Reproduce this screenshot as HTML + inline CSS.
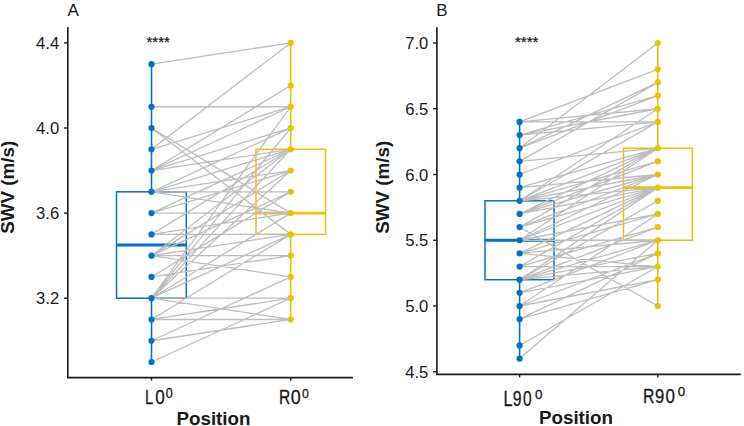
<!DOCTYPE html>
<html><head><meta charset="utf-8"><style>
html,body{margin:0;padding:0;background:#fff;}
svg{display:block;}
text{font-family:"Liberation Sans",sans-serif;fill:#1a1a1a;}
.tk{font-size:16.6px;}
.pl{font-size:17px;}
.st{font-size:15px;stroke:#1a1a1a;stroke-width:0.25px;}
.ax{font-size:18.8px;font-weight:bold;}
.cx{font-size:19.5px;}
.sup{font-size:13px;}
</style></head><body>
<svg width="744" height="426" viewBox="0 0 744 426">
<rect width="744" height="426" fill="#fff"/>
<rect x="116.5" y="191.82" width="69.8" height="106.37" fill="none" stroke="#0073C2" stroke-width="1.5"/>
<line x1="116.5" y1="245.01" x2="186.3" y2="245.01" stroke="#0073C2" stroke-width="2.8"/>
<rect x="256" y="149.28" width="69.5" height="85.1" fill="none" stroke="#EFC000" stroke-width="1.5"/>
<line x1="256" y1="213.1" x2="325.5" y2="213.1" stroke="#EFC000" stroke-width="2.8"/>
<line x1="151.5" y1="362.02" x2="151.5" y2="298.2" stroke="#0073C2" stroke-width="1.6"/>
<line x1="151.5" y1="191.82" x2="151.5" y2="64.18" stroke="#0073C2" stroke-width="1.6"/>
<line x1="290.7" y1="319.48" x2="290.7" y2="234.38" stroke="#EFC000" stroke-width="1.6"/>
<line x1="290.7" y1="149.28" x2="290.7" y2="42.9" stroke="#EFC000" stroke-width="1.6"/>
<path d="M151.5 64.18L290.7 42.9M151.5 106.73L290.7 106.73M151.5 106.73L290.7 106.73M151.5 128L290.7 213.1M151.5 128L290.7 234.38M151.5 149.28L290.7 42.9M151.5 149.28L290.7 106.73M151.5 170.55L290.7 85.45M151.5 170.55L290.7 106.73M151.5 170.55L290.7 128M151.5 170.55L290.7 149.28M151.5 191.82L290.7 128M151.5 191.82L290.7 149.28M151.5 191.82L290.7 170.55M151.5 191.82L290.7 191.82M151.5 191.82L290.7 213.1M151.5 213.1L290.7 149.28M151.5 213.1L290.7 170.55M151.5 213.1L290.7 213.1M151.5 234.38L290.7 149.28M151.5 234.38L290.7 213.1M151.5 234.38L290.7 234.38M151.5 255.65L290.7 149.28M151.5 255.65L290.7 170.55M151.5 255.65L290.7 191.82M151.5 255.65L290.7 234.38M151.5 255.65L290.7 255.65M151.5 255.65L290.7 276.93M151.5 276.93L290.7 191.82M151.5 276.93L290.7 255.65M151.5 298.2L290.7 106.73M151.5 298.2L290.7 128M151.5 298.2L290.7 149.28M151.5 298.2L290.7 170.55M151.5 298.2L290.7 213.1M151.5 298.2L290.7 234.38M151.5 298.2L290.7 298.2M151.5 298.2L290.7 319.48M151.5 319.48L290.7 234.38M151.5 319.48L290.7 298.2M151.5 319.48L290.7 319.48M151.5 340.75L290.7 276.93M151.5 340.75L290.7 319.48M151.5 362.02L290.7 298.2" stroke="#BEBEBE" stroke-width="1.3" fill="none"/>
<circle cx="151.5" cy="362.02" r="3.1" fill="#0073C2"/>
<circle cx="151.5" cy="340.75" r="3.1" fill="#0073C2"/>
<circle cx="151.5" cy="319.48" r="3.1" fill="#0073C2"/>
<circle cx="151.5" cy="298.2" r="3.1" fill="#0073C2"/>
<circle cx="151.5" cy="276.93" r="3.1" fill="#0073C2"/>
<circle cx="151.5" cy="255.65" r="3.1" fill="#0073C2"/>
<circle cx="151.5" cy="234.38" r="3.1" fill="#0073C2"/>
<circle cx="151.5" cy="213.1" r="3.1" fill="#0073C2"/>
<circle cx="151.5" cy="191.82" r="3.1" fill="#0073C2"/>
<circle cx="151.5" cy="170.55" r="3.1" fill="#0073C2"/>
<circle cx="151.5" cy="149.28" r="3.1" fill="#0073C2"/>
<circle cx="151.5" cy="128" r="3.1" fill="#0073C2"/>
<circle cx="151.5" cy="106.73" r="3.1" fill="#0073C2"/>
<circle cx="151.5" cy="64.18" r="3.1" fill="#0073C2"/>
<circle cx="290.7" cy="319.48" r="3.1" fill="#EFC000"/>
<circle cx="290.7" cy="298.2" r="3.1" fill="#EFC000"/>
<circle cx="290.7" cy="276.93" r="3.1" fill="#EFC000"/>
<circle cx="290.7" cy="255.65" r="3.1" fill="#EFC000"/>
<circle cx="290.7" cy="234.38" r="3.1" fill="#EFC000"/>
<circle cx="290.7" cy="213.1" r="3.1" fill="#EFC000"/>
<circle cx="290.7" cy="191.82" r="3.1" fill="#EFC000"/>
<circle cx="290.7" cy="170.55" r="3.1" fill="#EFC000"/>
<circle cx="290.7" cy="149.28" r="3.1" fill="#EFC000"/>
<circle cx="290.7" cy="128" r="3.1" fill="#EFC000"/>
<circle cx="290.7" cy="106.73" r="3.1" fill="#EFC000"/>
<circle cx="290.7" cy="85.45" r="3.1" fill="#EFC000"/>
<circle cx="290.7" cy="42.9" r="3.1" fill="#EFC000"/>
<rect x="485" y="200.8" width="69" height="78.9" fill="none" stroke="#0073C2" stroke-width="1.5"/>
<line x1="485" y1="240.25" x2="554" y2="240.25" stroke="#0073C2" stroke-width="2.8"/>
<rect x="623.5" y="148.2" width="68.8" height="92.05" fill="none" stroke="#EFC000" stroke-width="1.5"/>
<line x1="623.5" y1="187.65" x2="692.3" y2="187.65" stroke="#EFC000" stroke-width="2.8"/>
<line x1="519.6" y1="358.6" x2="519.6" y2="279.7" stroke="#0073C2" stroke-width="1.6"/>
<line x1="519.6" y1="200.8" x2="519.6" y2="121.9" stroke="#0073C2" stroke-width="1.6"/>
<line x1="657.8" y1="306" x2="657.8" y2="240.25" stroke="#EFC000" stroke-width="1.6"/>
<line x1="657.8" y1="148.2" x2="657.8" y2="43" stroke="#EFC000" stroke-width="1.6"/>
<path d="M519.6 121.9L657.8 69.3M519.6 121.9L657.8 108.75M519.6 121.9L657.8 121.9M519.6 135.05L657.8 108.75M519.6 135.05L657.8 121.9M519.6 148.2L657.8 43M519.6 148.2L657.8 82.45M519.6 148.2L657.8 95.6M519.6 161.35L657.8 82.45M519.6 161.35L657.8 148.2M519.6 174.5L657.8 121.9M519.6 187.65L657.8 148.2M519.6 200.8L657.8 148.2M519.6 200.8L657.8 161.35M519.6 200.8L657.8 174.5M519.6 200.8L657.8 187.65M519.6 200.8L657.8 121.9M519.6 200.8L657.8 108.75M519.6 213.95L657.8 148.2M519.6 213.95L657.8 161.35M519.6 213.95L657.8 187.65M519.6 227.1L657.8 148.2M519.6 227.1L657.8 174.5M519.6 227.1L657.8 306M519.6 240.25L657.8 148.2M519.6 240.25L657.8 174.5M519.6 240.25L657.8 187.65M519.6 240.25L657.8 213.95M519.6 240.25L657.8 240.25M519.6 253.4L657.8 187.65M519.6 253.4L657.8 213.95M519.6 253.4L657.8 240.25M519.6 253.4L657.8 266.55M519.6 266.55L657.8 187.65M519.6 266.55L657.8 227.1M519.6 266.55L657.8 266.55M519.6 279.7L657.8 187.65M519.6 279.7L657.8 200.8M519.6 279.7L657.8 227.1M519.6 279.7L657.8 240.25M519.6 279.7L657.8 253.4M519.6 279.7L657.8 266.55M519.6 279.7L657.8 200.8M519.6 292.85L657.8 240.25M519.6 292.85L657.8 266.55M519.6 306L657.8 253.4M519.6 306L657.8 279.7M519.6 319.15L657.8 253.4M519.6 345.45L657.8 266.55M519.6 358.6L657.8 240.25M519.6 187.65L657.8 174.5M519.6 213.95L657.8 174.5M519.6 227.1L657.8 187.65M519.6 306L657.8 213.95M519.6 319.15L657.8 279.7M519.6 135.05L657.8 95.6" stroke="#BEBEBE" stroke-width="1.3" fill="none"/>
<circle cx="519.6" cy="358.6" r="3.1" fill="#0073C2"/>
<circle cx="519.6" cy="345.45" r="3.1" fill="#0073C2"/>
<circle cx="519.6" cy="319.15" r="3.1" fill="#0073C2"/>
<circle cx="519.6" cy="306" r="3.1" fill="#0073C2"/>
<circle cx="519.6" cy="292.85" r="3.1" fill="#0073C2"/>
<circle cx="519.6" cy="279.7" r="3.1" fill="#0073C2"/>
<circle cx="519.6" cy="266.55" r="3.1" fill="#0073C2"/>
<circle cx="519.6" cy="253.4" r="3.1" fill="#0073C2"/>
<circle cx="519.6" cy="240.25" r="3.1" fill="#0073C2"/>
<circle cx="519.6" cy="227.1" r="3.1" fill="#0073C2"/>
<circle cx="519.6" cy="213.95" r="3.1" fill="#0073C2"/>
<circle cx="519.6" cy="200.8" r="3.1" fill="#0073C2"/>
<circle cx="519.6" cy="187.65" r="3.1" fill="#0073C2"/>
<circle cx="519.6" cy="174.5" r="3.1" fill="#0073C2"/>
<circle cx="519.6" cy="161.35" r="3.1" fill="#0073C2"/>
<circle cx="519.6" cy="148.2" r="3.1" fill="#0073C2"/>
<circle cx="519.6" cy="135.05" r="3.1" fill="#0073C2"/>
<circle cx="519.6" cy="121.9" r="3.1" fill="#0073C2"/>
<circle cx="657.8" cy="306" r="3.1" fill="#EFC000"/>
<circle cx="657.8" cy="279.7" r="3.1" fill="#EFC000"/>
<circle cx="657.8" cy="266.55" r="3.1" fill="#EFC000"/>
<circle cx="657.8" cy="253.4" r="3.1" fill="#EFC000"/>
<circle cx="657.8" cy="240.25" r="3.1" fill="#EFC000"/>
<circle cx="657.8" cy="227.1" r="3.1" fill="#EFC000"/>
<circle cx="657.8" cy="213.95" r="3.1" fill="#EFC000"/>
<circle cx="657.8" cy="200.8" r="3.1" fill="#EFC000"/>
<circle cx="657.8" cy="187.65" r="3.1" fill="#EFC000"/>
<circle cx="657.8" cy="174.5" r="3.1" fill="#EFC000"/>
<circle cx="657.8" cy="161.35" r="3.1" fill="#EFC000"/>
<circle cx="657.8" cy="148.2" r="3.1" fill="#EFC000"/>
<circle cx="657.8" cy="121.9" r="3.1" fill="#EFC000"/>
<circle cx="657.8" cy="108.75" r="3.1" fill="#EFC000"/>
<circle cx="657.8" cy="95.6" r="3.1" fill="#EFC000"/>
<circle cx="657.8" cy="82.45" r="3.1" fill="#EFC000"/>
<circle cx="657.8" cy="69.3" r="3.1" fill="#EFC000"/>
<circle cx="657.8" cy="43" r="3.1" fill="#EFC000"/>
<path d="M67.8 27V377.6H352.9" fill="none" stroke="#1a1a1a" stroke-width="1.6"/>
<line x1="64" y1="42.9" x2="67.8" y2="42.9" stroke="#1a1a1a" stroke-width="1.4"/>
<text x="59.2" y="48.9" text-anchor="end" class="tk">4.4</text>
<line x1="64" y1="128" x2="67.8" y2="128" stroke="#1a1a1a" stroke-width="1.4"/>
<text x="59.2" y="134" text-anchor="end" class="tk">4.0</text>
<line x1="64" y1="213.1" x2="67.8" y2="213.1" stroke="#1a1a1a" stroke-width="1.4"/>
<text x="59.2" y="219.1" text-anchor="end" class="tk">3.6</text>
<line x1="64" y1="298.2" x2="67.8" y2="298.2" stroke="#1a1a1a" stroke-width="1.4"/>
<text x="59.2" y="304.2" text-anchor="end" class="tk">3.2</text>
<line x1="151.5" y1="377.6" x2="151.5" y2="380.6" stroke="#1a1a1a" stroke-width="1.4"/>
<line x1="290.7" y1="377.6" x2="290.7" y2="380.6" stroke="#1a1a1a" stroke-width="1.4"/>
<path d="M436.9 27.3V374.4H740.7" fill="none" stroke="#1a1a1a" stroke-width="1.6"/>
<line x1="433.1" y1="43" x2="436.9" y2="43" stroke="#1a1a1a" stroke-width="1.4"/>
<text x="428.3" y="49" text-anchor="end" class="tk">7.0</text>
<line x1="433.1" y1="108.75" x2="436.9" y2="108.75" stroke="#1a1a1a" stroke-width="1.4"/>
<text x="428.3" y="114.75" text-anchor="end" class="tk">6.5</text>
<line x1="433.1" y1="174.5" x2="436.9" y2="174.5" stroke="#1a1a1a" stroke-width="1.4"/>
<text x="428.3" y="180.5" text-anchor="end" class="tk">6.0</text>
<line x1="433.1" y1="240.25" x2="436.9" y2="240.25" stroke="#1a1a1a" stroke-width="1.4"/>
<text x="428.3" y="246.25" text-anchor="end" class="tk">5.5</text>
<line x1="433.1" y1="306" x2="436.9" y2="306" stroke="#1a1a1a" stroke-width="1.4"/>
<text x="428.3" y="312" text-anchor="end" class="tk">5.0</text>
<line x1="433.1" y1="371.75" x2="436.9" y2="371.75" stroke="#1a1a1a" stroke-width="1.4"/>
<text x="428.3" y="377.75" text-anchor="end" class="tk">4.5</text>
<line x1="519.6" y1="374.4" x2="519.6" y2="377.4" stroke="#1a1a1a" stroke-width="1.4"/>
<line x1="657.8" y1="374.4" x2="657.8" y2="377.4" stroke="#1a1a1a" stroke-width="1.4"/>

<text x="67.6" y="16" class="pl">A</text>
<text x="436.2" y="16" class="pl">B</text>
<text x="146.5" y="47" class="st">****</text>
<text x="515" y="47" class="st">****</text>
<text transform="translate(14.4 187.3) rotate(-90)" text-anchor="middle" class="ax">SWV (m/s)</text>
<text transform="translate(388.9 187.3) rotate(-90)" text-anchor="middle" class="ax">SWV (m/s)</text>
<text x="213.5" y="425" text-anchor="middle" class="ax">Position</text>
<text x="576" y="424" text-anchor="middle" class="ax">Position</text>
<text transform="translate(145.03 404.00) scale(0.741 1)" style="font-size:20.06px;stroke:#1a1a1a;stroke-width:0.3px">L</text>
<text transform="translate(155.13 404.00) scale(0.849 1)" style="font-size:20.20px;stroke:#1a1a1a;stroke-width:0.3px">0</text>
<text transform="translate(165.71 397.66) scale(0.898 1)" style="font-size:13.98px;stroke:#1a1a1a;stroke-width:0.3px">0</text>
<text transform="translate(278.97 404.00) scale(0.777 1)" style="font-size:20.06px;stroke:#1a1a1a;stroke-width:0.3px">R</text>
<text transform="translate(290.70 404.00) scale(0.891 1)" style="font-size:20.20px;stroke:#1a1a1a;stroke-width:0.3px">0</text>
<text transform="translate(302.12 397.67) scale(0.915 1)" style="font-size:13.49px;stroke:#1a1a1a;stroke-width:0.3px">0</text>
<text transform="translate(503.38 405.70) scale(0.759 1)" style="font-size:21.22px;stroke:#1a1a1a;stroke-width:0.3px">L</text>
<text transform="translate(512.76 405.69) scale(0.746 1)" style="font-size:21.19px;stroke:#1a1a1a;stroke-width:0.3px">9</text>
<text transform="translate(522.90 405.69) scale(0.731 1)" style="font-size:21.19px;stroke:#1a1a1a;stroke-width:0.3px">0</text>
<text transform="translate(535.08 398.57) scale(0.977 1)" style="font-size:13.70px;stroke:#1a1a1a;stroke-width:0.3px">0</text>
<text transform="translate(643.10 402.80) scale(0.813 1)" style="font-size:19.48px;stroke:#1a1a1a;stroke-width:0.3px">R</text>
<text transform="translate(655.02 402.81) scale(0.855 1)" style="font-size:19.49px;stroke:#1a1a1a;stroke-width:0.3px">9</text>
<text transform="translate(665.54 402.81) scale(0.869 1)" style="font-size:19.49px;stroke:#1a1a1a;stroke-width:0.3px">0</text>
<text transform="translate(677.78 396.28) scale(1.053 1)" style="font-size:12.71px;stroke:#1a1a1a;stroke-width:0.3px">0</text>

</svg>
</body></html>
